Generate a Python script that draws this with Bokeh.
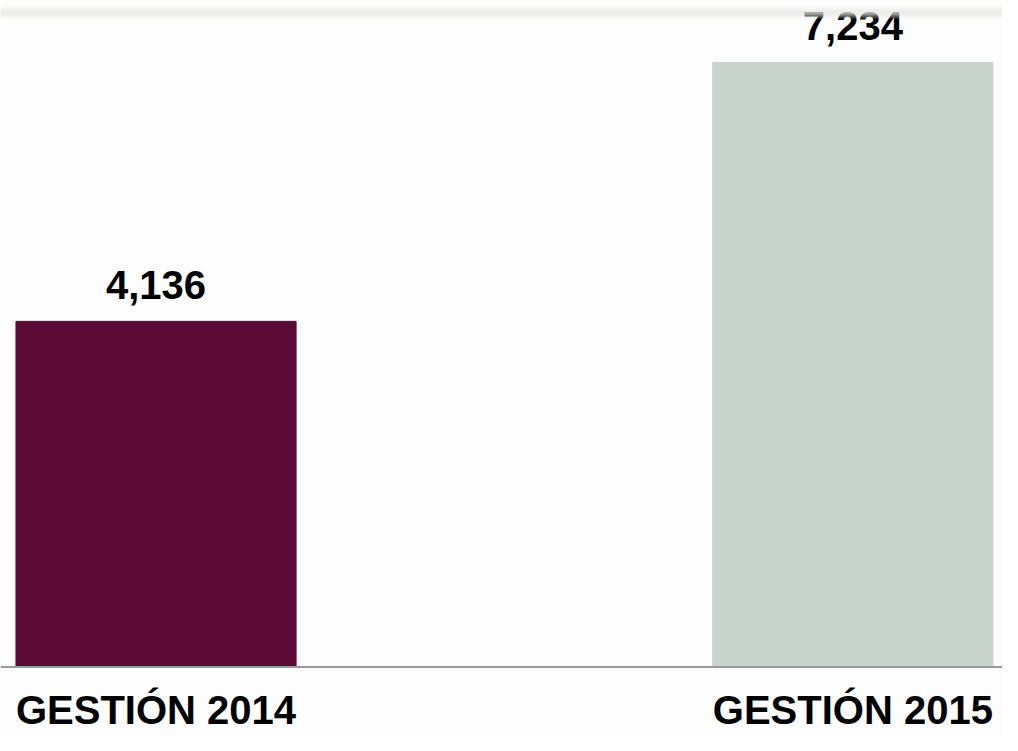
from bokeh.plotting import figure
from bokeh.models import ColumnDataSource, Range1d, Span, BoxAnnotation
from bokeh.core.properties import value
from bokeh.embed import file_html
from bokeh.resources import INLINE

categories = ["GESTIÓN 2014", "GESTIÓN 2015"]
values = [4136, 7234]
value_labels = ["4,136", "7,234"]
colors = ["#5A0A34", "#C8D3CB"]

xs = list(range(len(categories)))
src = ColumnDataSource(dict(x=xs, top=values, label=value_labels, cat=categories,
                            color=colors, zero=[0] * len(xs)))

p = figure(width=1002, height=735, output_backend="svg", toolbar_location=None,
           x_range=Range1d(-0.2232, 1.2148), y_range=Range1d(-818, 7974),
           min_border=0, border_fill_color="#fdfdfd", background_fill_color="#fdfdfd")
p.axis.visible = False
p.grid.visible = False
p.outline_line_color = None

# soft grey band near the top
for lo, hi, a in [(717, 729, 0.25), (719, 727, 0.35), (721, 725, 0.45)]:
    p.add_layout(BoxAnnotation(top=hi, bottom=lo, top_units="screen",
                               bottom_units="screen", fill_color="#e6e6e2", fill_alpha=a,
                               line_color=None))

p.vbar(x="x", top="top", bottom=0, width=0.402, color="color", source=src)

p.add_layout(Span(location=0, dimension="width", line_color="#9a9a9a", line_width=2))

p.text(x="x", y="top", text="label", source=src, text_align="center",
       text_baseline="alphabetic", y_offset=-36, text_font=value("Liberation Sans"),
       text_font_style="bold", text_font_size="40px", text_color="#000000")

p.text(x="x", y="zero", text="cat", source=src, text_align="center",
       text_baseline="alphabetic", y_offset=43, text_font=value("Liberation Sans"),
       text_font_style="bold", text_font_size="40px", text_color="#000000")

open("out.html", "w").write(file_html(p, INLINE))
